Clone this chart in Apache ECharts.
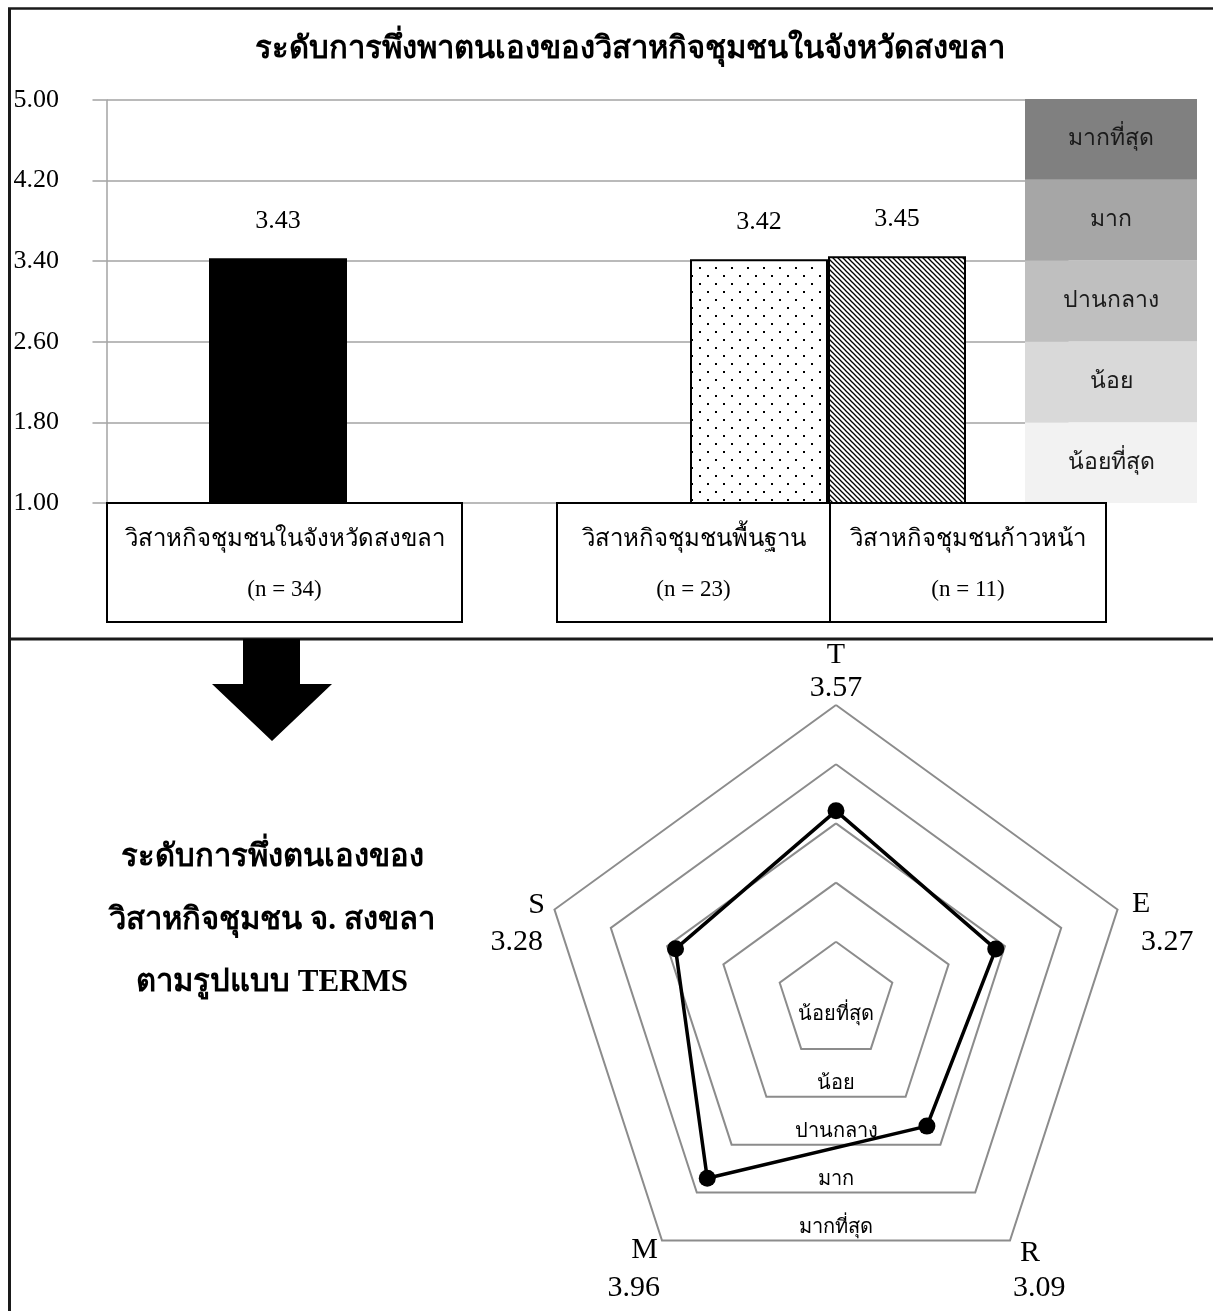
<!DOCTYPE html>
<html><head><meta charset="utf-8">
<script src="https://cdn.jsdelivr.net/npm/echarts@6/dist/echarts.min.js"></script>
<style>html,body{margin:0;padding:0;background:#fff}#c{width:1213px;height:1311px}</style>
</head><body><div id="c"></div>
<script>
// ---------- data ----------
const chartTitle = 'ระดับการพึ่งพาตนเองของวิสาหกิจชุมชนในจังหวัดสงขลา';
const barCategories = ['วิสาหกิจชุมชนในจังหวัดสงขลา', 'วิสาหกิจชุมชนพื้นฐาน', 'วิสาหกิจชุมชนก้าวหน้า'];
const barN = [34, 23, 11];
const barValues = [3.43, 3.42, 3.45];
const yMin = 1, yMax = 5, yStep = 0.8;
const levelNames = ['น้อยที่สุด', 'น้อย', 'ปานกลาง', 'มาก', 'มากที่สุด'];
const radarNames = ['T', 'E', 'R', 'M', 'S'];
const radarValues = [3.57, 3.27, 3.09, 3.96, 3.28];
const sideTitle = ['ระดับการพึ่งตนเองของ', 'วิสาหกิจชุมชน จ. สงขลา', 'ตามรูปแบบ TERMS'];

// ---------- styles ----------
const SERIF = '"Liberation Serif","Times New Roman",serif';
const levelColors = ['#f2f2f2', '#d9d9d9', '#bfbfbf', '#a6a6a6', '#808080'];
const GRID_GRAY = '#a3a3a3';

function dotPattern() {
  const c = document.createElement('canvas'); c.width = 16; c.height = 16;
  const g = c.getContext('2d');
  g.fillStyle = '#fff'; g.fillRect(0, 0, 16, 16);
  g.fillStyle = '#000'; g.fillRect(3, 3, 2, 2); g.fillRect(11, 11, 2, 2);
  return c;
}
function hatchPattern() {
  const s = 5;
  const c = document.createElement('canvas'); c.width = s; c.height = s;
  const g = c.getContext('2d');
  g.fillStyle = '#fff'; g.fillRect(0, 0, s, s);
  g.strokeStyle = '#000'; g.lineWidth = 1.3;
  [-s, 0, s].forEach(o => { g.beginPath(); g.moveTo(o - 1, -1); g.lineTo(o + s + 1, s + 1); g.stroke(); });
  return c;
}
const barFills = [
  { color: '#000', borderColor: '#000', borderWidth: 0 },
  { color: { image: dotPattern(), repeat: 'repeat' }, borderColor: '#000', borderWidth: 2 },
  { color: { image: hatchPattern(), repeat: 'repeat' }, borderColor: '#000', borderWidth: 2 }
];

const chart = echarts.init(document.getElementById('c'), null, { renderer: 'canvas' });

// radar geometry
const RC = [836, 1001], RR = 296;
const radarOrderCCW = [0, 4, 3, 2, 1]; // T, S, M, R, E (ECharts goes counter-clockwise)
function vertex(k) { // k in clockwise order T,E,R,M,S
  const th = (90 - 72 * k) * Math.PI / 180;
  return [RC[0] + RR * Math.cos(th), RC[1] - RR * Math.sin(th)];
}
// label offsets relative to vertex: [dxName, dyName, dxVal, dyVal, align]
const nameOffsets = [
  [0, -50, 0, -17, 'center'],
  [14.5, -5.5, 23.5, 32.5, 'left'],
  [10, 12.5, 3, 47.5, 'left'],
  [-4, 9.5, -2, 47.5, 'right'],
  [-9.5, -4.5, -11.5, 32.5, 'right']
];

const graphics = [];
function txt(x, y, text, size, align, weight, family) {
  graphics.push({ type: 'text', x: x, y: y, z: 10, silent: true,
    style: { text: text, fill: '#000', font: (weight || 'normal') + ' ' + size + 'px ' + (family || SERIF),
      align: align || 'center', verticalAlign: 'middle', textAlign: align || 'center', textVerticalAlign: 'middle' } });
}
function line(x1, y1, x2, y2, w, color) {
  graphics.push({ type: 'line', z: 10, silent: true, shape: { x1, y1, x2, y2 }, style: { stroke: color || '#1a1a1a', lineWidth: w } });
}
// frame
line(9.5, 8, 9.5, 1311, 3);
line(8, 8.5, 1213, 8.5, 2.5);
line(8, 639, 1213, 639, 3);
// title
txt(630, 50, chartTitle, 31, 'center', 'bold');
// category boxes
const boxes = [[107, 355], [557, 273], [830, 276]];
boxes.forEach((b, i) => {
  graphics.push({ type: 'rect', z: 10, silent: true, shape: { x: b[0], y: 503, width: b[1], height: 119 },
    style: { fill: '#fff', stroke: '#000', lineWidth: 2 } });
  txt(b[0] + b[1] / 2, 540, barCategories[i], 24);
  txt(b[0] + b[1] / 2, 590, '(n = ' + barN[i] + ')', 23);
});
// arrow
graphics.push({ type: 'polygon', z: 10, silent: true,
  shape: { points: [[243, 639], [300, 639], [300, 684], [332, 684], [272, 741], [212, 684], [243, 684]] },
  style: { fill: '#000' } });
// side title
sideTitle.forEach((t, i) => txt(272, 858 + i * 62.5, t, 31, 'center', 'bold'));
// radar axis names + values
radarNames.forEach((n, k) => {
  const v = vertex(k), o = nameOffsets[k];
  txt(v[0] + o[0], v[1] + o[1], n, 30, o[4]);
  txt(v[0] + o[2], v[1] + o[3], radarValues[k].toFixed(2), 30, o[4]);
});
// radar level labels (above bottom edge of each ring)
levelNames.forEach((n, i) => {
  const k = i + 1;
  const edge = RC[1] + RR * (k / 5) * Math.cos(36 * Math.PI / 180);
  const y = k === 1 ? RC[1] + 14 : edge - 13;
  txt(RC[0], y, n, 20);
});

const option = {
  animation: false,
  backgroundColor: '#fff',
  grid: [
    { left: 106.5, width: 962, top: 100, height: 403 },
    { left: 1025, width: 172, top: 99, height: 404 }
  ],
  xAxis: [
    { gridIndex: 0, type: 'category', data: [barCategories[0], barCategories[1]], show: false },
    { gridIndex: 1, type: 'value', min: 0, max: 1, show: false }
  ],
  yAxis: [
    { gridIndex: 0, type: 'value', min: yMin, max: yMax, interval: yStep,
      axisLine: { show: true, lineStyle: { color: GRID_GRAY, width: 1.5 } },
      axisTick: { show: true, length: 14, lineStyle: { color: GRID_GRAY, width: 1.5 } },
      splitLine: { show: true, lineStyle: { color: GRID_GRAY, width: 1.5 } },
      axisLabel: { align: 'left', margin: 93, fontSize: 26, fontFamily: SERIF, color: '#000',
        formatter: v => v.toFixed(2) } },
    { gridIndex: 1, type: 'category', data: levelNames, show: false }
  ],
  radar: {
    center: RC, radius: RR, startAngle: 90, splitNumber: 5, shape: 'polygon',
    indicator: radarOrderCCW.map(i => ({ name: radarNames[i], min: 1, max: 5 })),
    axisName: { show: false },
    axisLine: { show: false }, axisTick: { show: false }, axisLabel: { show: false },
    splitArea: { show: false },
    splitLine: { lineStyle: { color: '#8c8c8c', width: 2 } }
  },
  series: [
    { type: 'bar', xAxisIndex: 0, yAxisIndex: 0, barWidth: 138, barGap: '0%',
      data: [0, 1].map(i => ({ value: barValues[i], itemStyle: barFills[i] })),
      label: { show: true, position: 'top', distance: 24, fontSize: 26, fontFamily: SERIF, color: '#000',
        formatter: p => p.value.toFixed(2) } },
    { type: 'bar', xAxisIndex: 0, yAxisIndex: 0, barWidth: 138, barGap: '0%',
      data: ['-', { value: barValues[2], itemStyle: barFills[2] }],
      label: { show: true, position: 'top', distance: 24, fontSize: 26, fontFamily: SERIF, color: '#000',
        formatter: p => p.value.toFixed(2) } },
    { type: 'bar', xAxisIndex: 1, yAxisIndex: 1, barCategoryGap: '0%', silent: true,
      data: levelNames.map((n, i) => ({ value: 1, itemStyle: { color: levelColors[i] } })),
      label: { show: true, position: 'inside', formatter: '{b}', fontSize: 23, fontFamily: SERIF, color: '#1a1a1a' } },
    { type: 'radar',
      symbol: 'circle', symbolSize: 17,
      lineStyle: { color: '#000', width: 3.5 }, itemStyle: { color: '#000' },
      data: [{ value: radarOrderCCW.map(i => radarValues[i]) }] }
  ],
  graphic: graphics
};
chart.setOption(option);
</script>
</body></html>
